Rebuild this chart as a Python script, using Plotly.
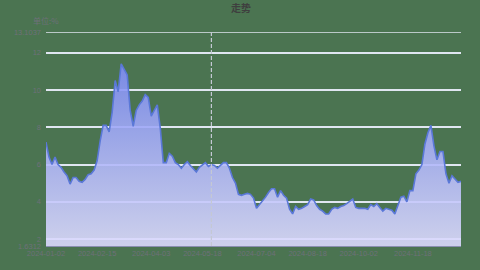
import pandas as pd
import plotly.graph_objects as go

title_text = "走势"
y_name = "单位:%"

values = [
    7.2, 6.4, 6.0, 6.4, 6.0, 5.85, 5.6, 5.4, 4.95, 5.3,
    5.3, 5.1, 5.05, 5.2, 5.45, 5.5, 5.7, 6.2, 7.25, 8.1,
    8.1, 7.75, 8.8, 10.5, 9.9, 11.4, 11.1, 10.8, 8.9, 8.05,
    8.9, 9.2, 9.4, 9.75, 9.6, 8.6, 8.9, 9.2, 7.95, 6.1,
    6.1, 6.6, 6.45, 6.1, 6.0, 5.8, 6.0, 6.15, 5.95, 5.75,
    5.6, 5.85, 6.0, 6.1, 5.9, 6.0, 5.95, 5.8, 5.95, 6.1,
    6.1, 5.8, 5.3, 5.0, 4.4,
    4.35, 4.4, 4.45, 4.4, 4.2, 3.65, 3.85, 4.0, 4.25, 4.5,
    4.7, 4.7, 4.25, 4.6, 4.35, 4.2, 3.6, 3.35, 3.75, 3.6,
    3.65, 3.75, 3.85, 4.15, 4.1, 3.8, 3.6, 3.5, 3.35, 3.35,
    3.6, 3.7, 3.65, 3.75, 3.8, 3.9, 4.05, 4.15, 3.7, 3.65,
    3.65, 3.65, 3.6, 3.85, 3.75, 3.9, 3.7, 3.5, 3.65, 3.6,
    3.55, 3.35, 3.8, 4.25, 4.3, 4.0, 4.6, 4.6, 5.5, 5.7,
    6.0, 7.1, 7.7, 8.1, 7.0, 6.25, 6.7, 6.7, 5.5, 5.0,
    5.4, 5.2, 5.05, 5.1,
]
dates = list(pd.date_range("2024-01-02", "2024-12-31", periods=len(values)).strftime("%Y-%m-%d"))
label_idx = [0, 17, 35, 52, 70, 87, 104, 122]
pointer_idx = 55

y_min = 1.6312
y_max = 13.1037
y_ticks = [2, 4, 6, 8, 10, 12]

tickvals = [y_min] + y_ticks + [y_max]
ticktext = [f"{y_min:.4f}"] + [str(t) for t in y_ticks] + [f"{y_max:.4f}"]

bg = "#4b7451"
grey = "#6e7079"
grid = "#e0e6f1"

fig = go.Figure()
fig.add_trace(go.Scatter(
    x=dates, y=values, mode="lines",
    line=dict(color="#5a78d8", width=1.6),
    fill="tozeroy",
    fillgradient=dict(
        type="vertical",
        colorscale=[[0, "rgba(236,232,255,0.9)"], [1, "rgba(126,140,244,0.9)"]],
    ),
    hoverinfo="skip",
))

fig.add_shape(type="line", xref="paper", yref="y", x0=0, x1=1, y0=y_max, y1=y_max,
              line=dict(color=grid, width=1.5), layer="below")
fig.add_shape(type="line", xref="x", yref="paper",
              x0=dates[pointer_idx], x1=dates[pointer_idx], y0=0, y1=1,
              line=dict(color="#c4c8d4", width=1.2, dash="4px,2px"))

fig.update_layout(
    width=480, height=270,
    margin=dict(l=46, r=19, t=32, b=20),
    paper_bgcolor=bg, plot_bgcolor=bg,
    showlegend=False,
    font=dict(family="Liberation Sans, Noto Sans CJK SC", size=8, color=grey),
    xaxis=dict(
        type="category", range=[0, len(values) - 1],
        tickmode="array", tickvals=[dates[i] for i in label_idx],
        ticktext=[dates[i] for i in label_idx],
        showgrid=False, showline=True, linecolor="#8a8fb0", linewidth=1,
        ticks="", tickfont=dict(size=7.5, color=grey), tickangle=0,
        zeroline=False,
    ),
    yaxis=dict(
        range=[y_min, y_max], tickmode="array", tickvals=tickvals, ticktext=ticktext,
        showgrid=True, gridcolor=grid, gridwidth=1.5,
        showline=False, zeroline=False, ticks="", ticklabelstandoff=4,
        tickfont=dict(size=7.5, color=grey),
    ),
    annotations=[
        dict(text=f"<b>{title_text}</b>", xref="paper", yref="paper", x=0.47, y=1.115,
             xanchor="center", yanchor="middle", showarrow=False,
             font=dict(size=10, color="#3f3f3f", family="Noto Sans CJK SC")),
        dict(text=y_name, xref="paper", yref="paper", x=0.0, y=1.055,
             xanchor="center", yanchor="middle", showarrow=False,
             font=dict(size=8, color=grey, family="Noto Sans CJK SC")),
    ],
)

fig.write_html("out.html")
